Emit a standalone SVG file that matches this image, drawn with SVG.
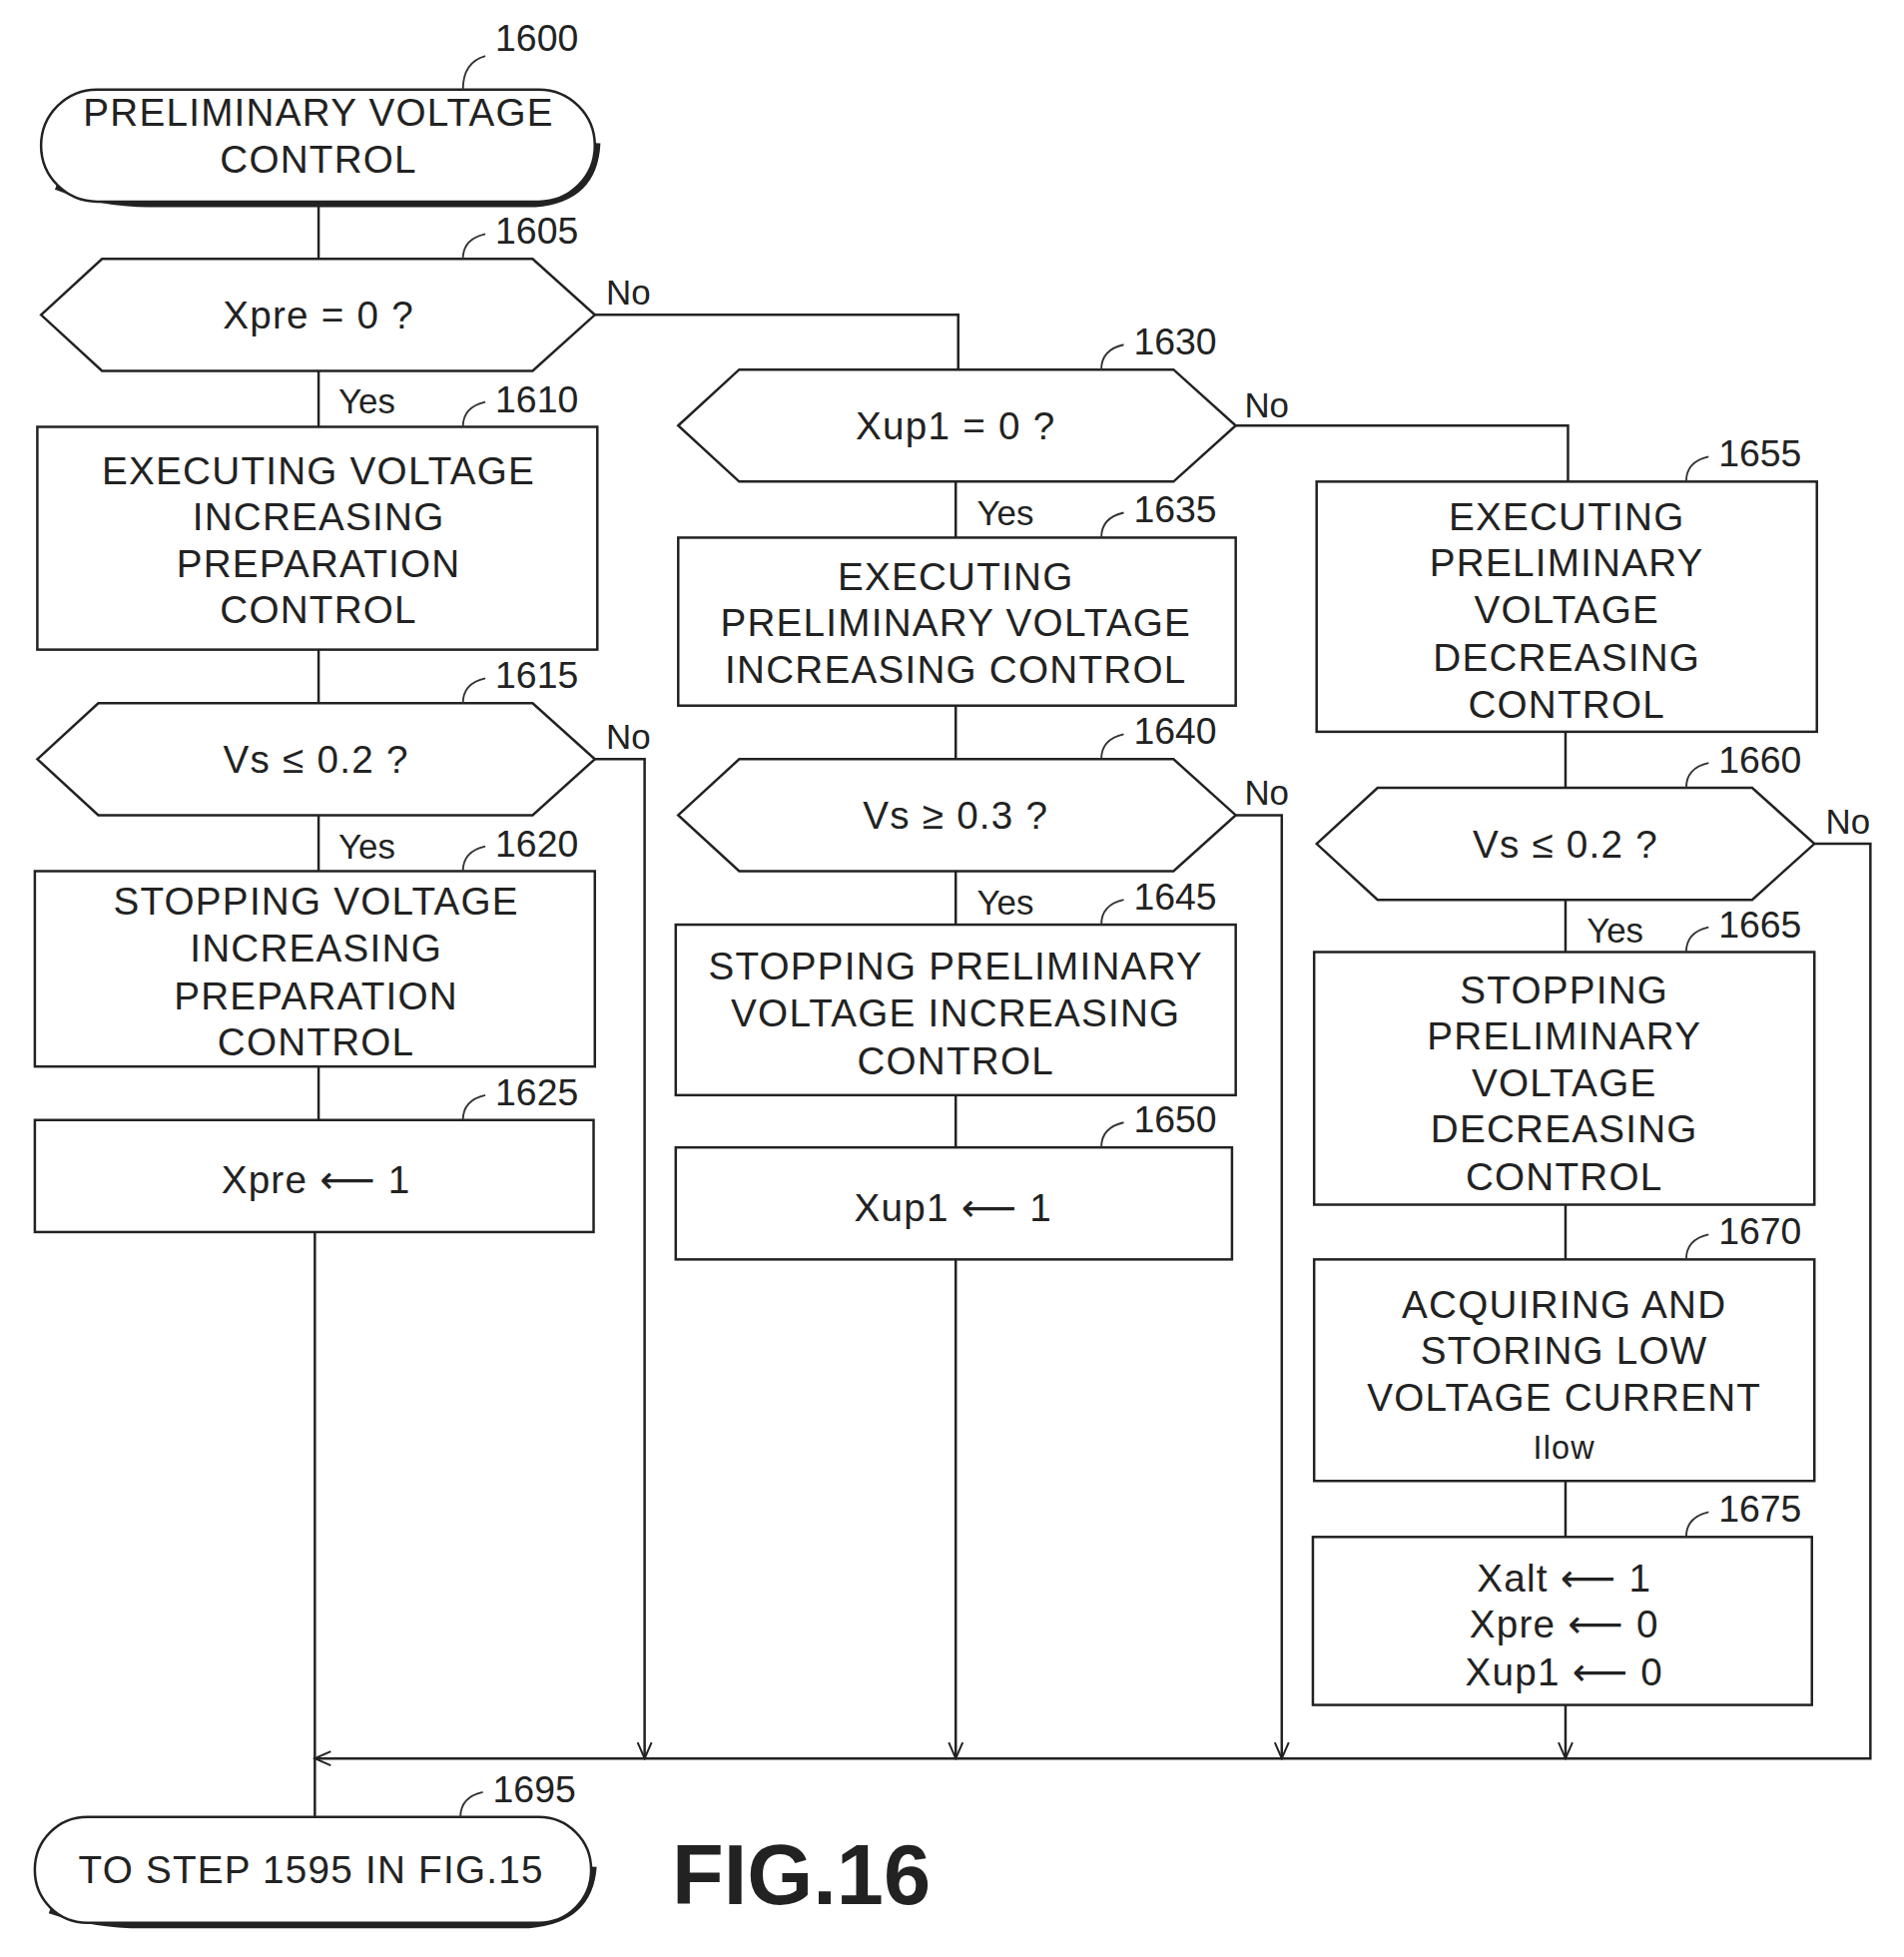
<svg xmlns="http://www.w3.org/2000/svg" width="1907" height="1960" viewBox="0 0 1907 1960">
<defs>
<style>
.b{fill:none;stroke:#222;stroke-width:2}
.t{fill:#fff;stroke:#222;stroke-width:2}
.sh{fill:none;stroke:#222;stroke-width:5}
.l{fill:none;stroke:#222;stroke-width:2}
.ld{fill:none;stroke:#333;stroke-width:1.5}
text{font-family:"Liberation Sans",Arial,sans-serif;fill:#222}
.c{font-size:31px;text-anchor:middle;letter-spacing:1px}
.n{font-size:30px;font-family:"Liberation Sans Narrow","Liberation Sans",sans-serif}
.y{font-size:28px}
.ar{font-family:"DejaVu Sans",sans-serif}
</style>
<marker id="a" viewBox="0 0 20 20" refX="18" refY="10" markerWidth="16" markerHeight="16" markerUnits="userSpaceOnUse" orient="auto"><path d="M2 3 L18 10 L2 17" fill="none" stroke="#222" stroke-width="2"/></marker>
</defs>
<g transform="scale(1.2464)">
<g id="connectors">
<path class="l" d="M256 162 V208"/>
<path class="l" d="M256 298 V343"/>
<path class="l" d="M478 253 H770 V298"/>
<path class="l" d="M256 522 V565"/>
<path class="l" d="M256 655 V700"/>
<path class="l" d="M256 857 V900"/>
<path class="l" d="M253 990 V1460"/>
<path class="l" d="M478 610 H518 V1413" marker-end="url(#a)"/>
<path class="l" d="M768 387 V432"/>
<path class="l" d="M993 342 H1260 V387"/>
<path class="l" d="M768 567 V610"/>
<path class="l" d="M768 700 V743"/>
<path class="l" d="M768 880 V922"/>
<path class="l" d="M768 1012 V1413" marker-end="url(#a)"/>
<path class="l" d="M993 655 H1030 V1413" marker-end="url(#a)"/>
<path class="l" d="M1258 588 V633"/>
<path class="l" d="M1258 723 V765"/>
<path class="l" d="M1258 968 V1012"/>
<path class="l" d="M1258 1190 V1235"/>
<path class="l" d="M1258 1370 V1413" marker-end="url(#a)"/>
<path class="l" d="M1458 678 H1503 V1413 H253" marker-end="url(#a)"/>
<text class="y" x="487" y="245">No</text>
<text class="y" x="272" y="332">Yes</text>
<text class="y" x="487" y="602">No</text>
<text class="y" x="272" y="690">Yes</text>
<text class="y" x="1000" y="335">No</text>
<text class="y" x="785" y="422">Yes</text>
<text class="y" x="1000" y="647">No</text>
<text class="y" x="785" y="735">Yes</text>
<text class="y" x="1467" y="670">No</text>
<text class="y" x="1275" y="757">Yes</text>
</g>
<g id="n1600">
<path class="sh" d="M45 150 Q80 164 120 164 H430 Q478 160 480 115"/>
<rect class="t" x="33" y="72" width="445" height="90" rx="45"/>
<text class="c" x="256" y="101">PRELIMINARY VOLTAGE</text>
<text class="c" x="256" y="139">CONTROL</text>
<path class="ld" d="M372 72 Q372 50 390 45"/><text class="n" x="398" y="41">1600</text>
</g>
<g id="n1605">
<path class="t" d="M33 253 L82 208 H428 L478 253 L428 298 H82 Z"/>
<text class="c" x="256" y="264">Xpre = 0  ?</text>
<path class="ld" d="M372 208 Q372 192 390 188"/><text class="n" x="398" y="196">1605</text>
</g>
<g id="n1610">
<rect class="t" x="30" y="343" width="450" height="179"/>
<text class="c" x="256" y="389">EXECUTING VOLTAGE</text>
<text class="c" x="256" y="426">INCREASING</text>
<text class="c" x="256" y="464">PREPARATION</text>
<text class="c" x="256" y="501">CONTROL</text>
<path class="ld" d="M372 343 Q372 327 390 323"/><text class="n" x="398" y="331">1610</text>
</g>
<g id="n1615">
<path class="t" d="M30 610 L79 565 H428 L478 610 L428 655 H79 Z"/>
<text class="c" x="254" y="621">Vs ≤ 0.2  ?</text>
<path class="ld" d="M372 565 Q372 549 390 545"/><text class="n" x="398" y="553">1615</text>
</g>
<g id="n1620">
<rect class="t" x="28" y="700" width="450" height="157"/>
<text class="c" x="254" y="735">STOPPING VOLTAGE</text>
<text class="c" x="254" y="773">INCREASING</text>
<text class="c" x="254" y="811">PREPARATION</text>
<text class="c" x="254" y="848">CONTROL</text>
<path class="ld" d="M372 700 Q372 684 390 680"/><text class="n" x="398" y="688">1620</text>
</g>
<g id="n1625">
<rect class="t" x="28" y="900" width="449" height="90"/>
<text class="c" x="254" y="959">Xpre <tspan class="ar">⟵</tspan> 1</text>
<path class="ld" d="M372 900 Q372 884 390 880"/><text class="n" x="398" y="888">1625</text>
</g>
<g id="n1695">
<path class="sh" d="M40 1535 Q75 1547 115 1547 H425 Q474 1543 477 1500"/>
<rect class="t" x="28" y="1460" width="447" height="85" rx="42"/>
<text class="c" x="250" y="1513">TO STEP 1595 IN FIG.15</text>
<path class="ld" d="M370 1460 Q370 1444 388 1440"/><text class="n" x="396" y="1448">1695</text>
</g>
<g id="n1630">
<path class="t" d="M545 342 L594 297 H943 L993 342 L943 387 H594 Z"/>
<text class="c" x="768" y="353">Xup1 = 0  ?</text>
<path class="ld" d="M885 297 Q885 281 903 277"/><text class="n" x="911" y="285">1630</text>
</g>
<g id="n1635">
<rect class="t" x="545" y="432" width="448" height="135"/>
<text class="c" x="768" y="474">EXECUTING</text>
<text class="c" x="768" y="511">PRELIMINARY VOLTAGE</text>
<text class="c" x="768" y="549">INCREASING CONTROL</text>
<path class="ld" d="M885 432 Q885 416 903 412"/><text class="n" x="911" y="420">1635</text>
</g>
<g id="n1640">
<path class="t" d="M545 655 L594 610 H943 L993 655 L943 700 H594 Z"/>
<text class="c" x="768" y="666">Vs ≥ 0.3  ?</text>
<path class="ld" d="M885 610 Q885 594 903 590"/><text class="n" x="911" y="598">1640</text>
</g>
<g id="n1645">
<rect class="t" x="543" y="743" width="450" height="137"/>
<text class="c" x="768" y="787">STOPPING PRELIMINARY</text>
<text class="c" x="768" y="825">VOLTAGE INCREASING</text>
<text class="c" x="768" y="863">CONTROL</text>
<path class="ld" d="M885 743 Q885 727 903 723"/><text class="n" x="911" y="731">1645</text>
</g>
<g id="n1650">
<rect class="t" x="543" y="922" width="447" height="90"/>
<text class="c" x="766" y="981">Xup1 <tspan class="ar">⟵</tspan> 1</text>
<path class="ld" d="M885 922 Q885 906 903 902"/><text class="n" x="911" y="910">1650</text>
</g>
<g id="n1655">
<rect class="t" x="1058" y="387" width="402" height="201"/>
<text class="c" x="1259" y="426">EXECUTING</text>
<text class="c" x="1259" y="463">PRELIMINARY</text>
<text class="c" x="1259" y="501">VOLTAGE</text>
<text class="c" x="1259" y="539">DECREASING</text>
<text class="c" x="1259" y="577">CONTROL</text>
<path class="ld" d="M1355 387 Q1355 371 1373 367"/><text class="n" x="1381" y="375">1655</text>
</g>
<g id="n1660">
<path class="t" d="M1058 678 L1107 633 H1408 L1458 678 L1408 723 H1107 Z"/>
<text class="c" x="1258" y="689">Vs ≤ 0.2  ?</text>
<path class="ld" d="M1355 633 Q1355 617 1373 613"/><text class="n" x="1381" y="621">1660</text>
</g>
<g id="n1665">
<rect class="t" x="1056" y="765" width="402" height="203"/>
<text class="c" x="1257" y="806">STOPPING</text>
<text class="c" x="1257" y="843">PRELIMINARY</text>
<text class="c" x="1257" y="881">VOLTAGE</text>
<text class="c" x="1257" y="918">DECREASING</text>
<text class="c" x="1257" y="956">CONTROL</text>
<path class="ld" d="M1355 765 Q1355 749 1373 745"/><text class="n" x="1381" y="753">1665</text>
</g>
<g id="n1670">
<rect class="t" x="1056" y="1012" width="402" height="178"/>
<text class="c" x="1257" y="1059">ACQUIRING AND</text>
<text class="c" x="1257" y="1096">STORING LOW</text>
<text class="c" x="1257" y="1134">VOLTAGE CURRENT</text>
<text class="c" x="1257" y="1172" style="font-size:26px">Ilow</text>
<path class="ld" d="M1355 1012 Q1355 996 1373 992"/><text class="n" x="1381" y="1000">1670</text>
</g>
<g id="n1675">
<rect class="t" x="1055" y="1235" width="401" height="135"/>
<text class="c" x="1257" y="1279">Xalt <tspan class="ar">⟵</tspan> 1</text>
<text class="c" x="1257" y="1316">Xpre <tspan class="ar">⟵</tspan> 0</text>
<text class="c" x="1257" y="1354">Xup1 <tspan class="ar">⟵</tspan> 0</text>
<path class="ld" d="M1355 1235 Q1355 1219 1373 1215"/><text class="n" x="1381" y="1223">1675</text>
</g>
<text x="540" y="1530" style="font-size:68px;font-weight:bold">FIG.16</text>
</g>
</svg>
